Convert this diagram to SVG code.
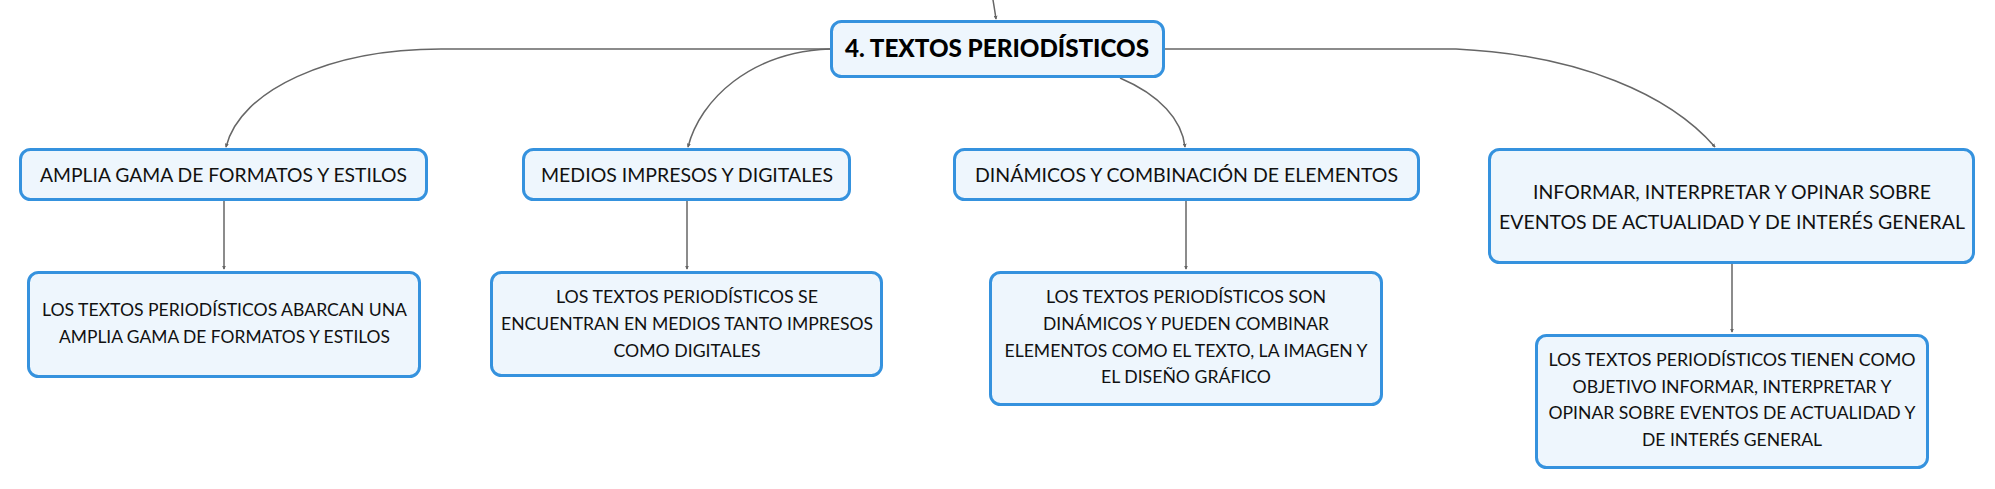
<svg xmlns="http://www.w3.org/2000/svg" width="1995" height="489" viewBox="0 0 1995 489">
<style>
.box{fill:#eef6fd;stroke:#3592de;stroke-width:3}
.conn{fill:none;stroke:#666;stroke-width:1.5;marker-end:url(#arr)}
.t{font-family:Lato,"Open Sans",sans-serif;font-size:20px;fill:#111;text-anchor:middle}
.c{font-family:Lato,"Open Sans",sans-serif;font-size:18px;fill:#111;text-anchor:middle}
.r{font-family:Lato,"Open Sans",sans-serif;font-size:25px;font-weight:900;fill:#000;text-anchor:middle}
</style>
<defs>
<marker id="arr" viewBox="0 0 6 6" refX="5" refY="3" markerWidth="4" markerHeight="4" orient="auto" markerUnits="userSpaceOnUse">
<path d="M0,0 L6,3 L0,6 z" fill="#666"/>
</marker>
</defs>
<rect width="1995" height="489" fill="#fff"/>
<g id="connectors">
<path class="conn" d="M993,0 C994,6 995,12 996,19"/>
<path class="conn" d="M830,49 L441,49 C330,49 240,90 226,147"/>
<path class="conn" d="M830,49 C750,52 700,100 688,147"/>
<path class="conn" d="M1120,78 C1160,95 1182,120 1185,147"/>
<path class="conn" d="M1165,49 L1456,49 C1580,55 1670,95 1715,147"/>
<path class="conn" d="M224,201 L224,269"/>
<path class="conn" d="M687,201 L687,269"/>
<path class="conn" d="M1186,201 L1186,269"/>
<path class="conn" d="M1732,264 L1732,332"/>
</g>
<g id="root">
<rect class="box" x="831.5" y="21.5" width="332" height="55" rx="10"/>
<text class="r" x="997" y="57" textLength="304" lengthAdjust="spacingAndGlyphs">4. TEXTOS PERIODÍSTICOS</text>
</g>
<g id="n1">
<rect class="box" x="20.5" y="149.5" width="406" height="50" rx="10"/>
<text class="t" x="223.5" y="182" textLength="367" lengthAdjust="spacingAndGlyphs">AMPLIA GAMA DE FORMATOS Y ESTILOS</text>
</g>
<g id="n2">
<rect class="box" x="523.5" y="149.5" width="326" height="50" rx="10"/>
<text class="t" x="687" y="182" textLength="292" lengthAdjust="spacingAndGlyphs">MEDIOS IMPRESOS Y DIGITALES</text>
</g>
<g id="n3">
<rect class="box" x="954.5" y="149.5" width="464" height="50" rx="10"/>
<text class="t" x="1186.5" y="182" textLength="423" lengthAdjust="spacingAndGlyphs">DINÁMICOS Y COMBINACIÓN DE ELEMENTOS</text>
</g>
<g id="n4">
<rect class="box" x="1489.5" y="149.5" width="484" height="113" rx="10"/>
<text class="t" x="1732" y="199" textLength="398" lengthAdjust="spacingAndGlyphs">INFORMAR, INTERPRETAR Y OPINAR SOBRE</text>
<text class="t" x="1732" y="229" textLength="466" lengthAdjust="spacingAndGlyphs">EVENTOS DE ACTUALIDAD Y DE INTERÉS GENERAL</text>
</g>
<g id="c1">
<rect class="box" x="28.5" y="272.5" width="391" height="104" rx="10"/>
<text class="c" x="224.5" y="316" textLength="365" lengthAdjust="spacingAndGlyphs">LOS TEXTOS PERIODÍSTICOS ABARCAN UNA</text>
<text class="c" x="224.5" y="343" textLength="331" lengthAdjust="spacingAndGlyphs">AMPLIA GAMA DE FORMATOS Y ESTILOS</text>
</g>
<g id="c2">
<rect class="box" x="491.5" y="272.5" width="390" height="103" rx="10"/>
<text class="c" x="687" y="303" textLength="262" lengthAdjust="spacingAndGlyphs">LOS TEXTOS PERIODÍSTICOS SE</text>
<text class="c" x="687" y="330" textLength="372" lengthAdjust="spacingAndGlyphs">ENCUENTRAN EN MEDIOS TANTO IMPRESOS</text>
<text class="c" x="687" y="357" textLength="147" lengthAdjust="spacingAndGlyphs">COMO DIGITALES</text>
</g>
<g id="c3">
<rect class="box" x="990.5" y="272.5" width="391" height="132" rx="10"/>
<text class="c" x="1186" y="303" textLength="280" lengthAdjust="spacingAndGlyphs">LOS TEXTOS PERIODÍSTICOS SON</text>
<text class="c" x="1186" y="330" textLength="286" lengthAdjust="spacingAndGlyphs">DINÁMICOS Y PUEDEN COMBINAR</text>
<text class="c" x="1186" y="357" textLength="363" lengthAdjust="spacingAndGlyphs">ELEMENTOS COMO EL TEXTO, LA IMAGEN Y</text>
<text class="c" x="1186" y="383" textLength="170" lengthAdjust="spacingAndGlyphs">EL DISEÑO GRÁFICO</text>
</g>
<g id="c4">
<rect class="box" x="1536.5" y="335.5" width="391" height="132" rx="10"/>
<text class="c" x="1732" y="366" textLength="367" lengthAdjust="spacingAndGlyphs">LOS TEXTOS PERIODÍSTICOS TIENEN COMO</text>
<text class="c" x="1732" y="393" textLength="319" lengthAdjust="spacingAndGlyphs">OBJETIVO INFORMAR, INTERPRETAR Y</text>
<text class="c" x="1732" y="419" textLength="367" lengthAdjust="spacingAndGlyphs">OPINAR SOBRE EVENTOS DE ACTUALIDAD Y</text>
<text class="c" x="1732" y="446" textLength="180" lengthAdjust="spacingAndGlyphs">DE INTERÉS GENERAL</text>
</g>
</svg>
